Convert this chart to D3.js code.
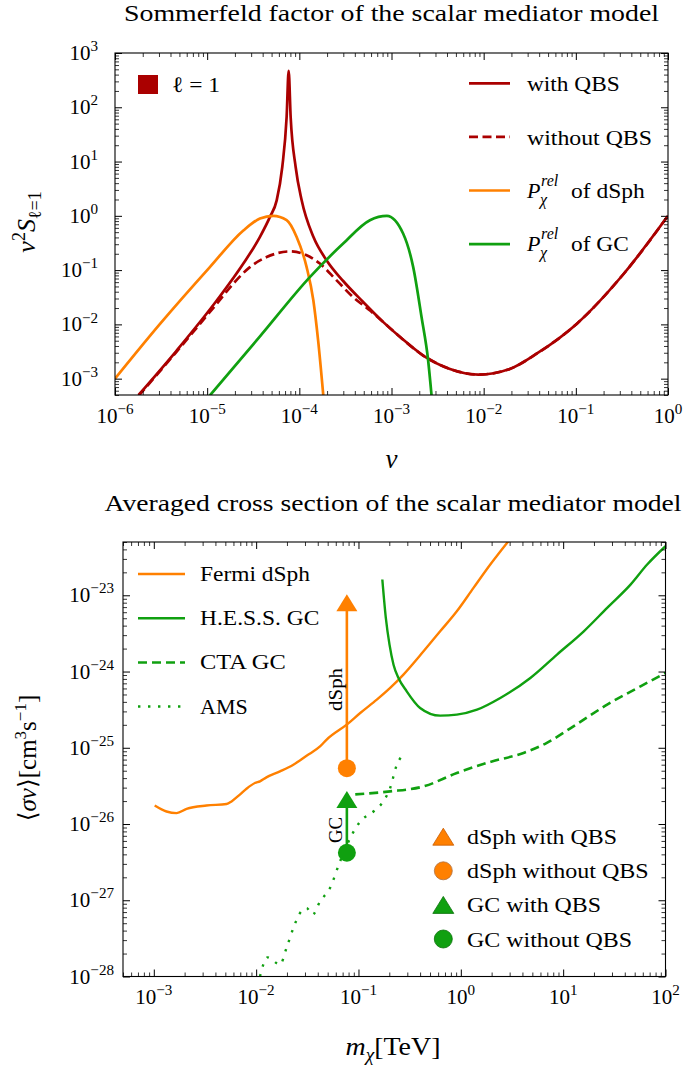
<!DOCTYPE html>
<html>
<head>
<meta charset="utf-8">
<script src="https://cdn.jsdelivr.net/npm/d3@7"></script>
<style>
  body { margin: 0; background: #fff; }
  svg text { font-family: "Liberation Serif", "DejaVu Serif", serif; fill: #000; }
</style>
</head>
<body>
<svg id="fig" width="684" height="1065"></svg>
<script>
"use strict";

const RED = "#aa0000";
const ORANGE = "#ff8000";
const GREEN = "#10a010";

// ---- top panel: v^2 S_l=1 against v ----
const V_WITH_QBS = [1.8e-6, 4.67e-6, 1.27e-5, 2.47e-5, 3.74e-5, 4.8e-5, 5.68e-5, 6.53e-5, 7.28e-5, 7.66e-5,
    8.05e-5, 9.12e-5, 1.06e-4, 1.42e-4, 1.98e-4, 2.99e-4, 4.93e-4, 8.15e-4, 1.24e-3, 2.21e-3,
    4.31e-3, 8.75e-3, 1.92e-2, 3.75e-2, 0.102, 0.326, 1];
const S_WITH_QBS = [5.0e-4, 3.3e-3, 2.75e-2, 0.132, 0.41, 0.955, 1.93, 7.94, 66.1, 468,
    66.1, 7.94, 1.93, 0.41, 0.151, 0.063, 0.0258, 0.011, 5.85e-3, 2.67e-3,
    1.51e-3, 1.19e-3, 1.51e-3, 2.88e-3, 1.02e-2, 0.083, 1];

const V_NO_QBS = [1.8e-6, 4.67e-6, 1.27e-5, 1.92e-5, 2.91e-5, 4.42e-5, 7.91e-5, 1.1e-4, 1.67e-4, 2.54e-4,
    3.85e-4, 5.9e-4, 8.15e-4, 1.24e-3, 2.21e-3, 4.31e-3, 8.75e-3, 1.92e-2, 3.75e-2, 0.102, 0.326, 1];
const S_NO_QBS = [4.8e-4, 3.16e-3, 0.024, 0.0562, 0.1135, 0.174, 0.221, 0.2, 0.132, 0.0646,
    0.0316, 0.0178, 0.011, 5.85e-3, 2.67e-3, 1.51e-3, 1.19e-3, 1.51e-3, 2.88e-3, 1.02e-2, 0.083, 1];

const V_DSPH = [1e-6, 3.08e-6, 1.07e-5, 2.47e-5, 3.74e-5, 5.21e-5, 7.28e-5, 9.35e-5, 1.2e-4, 1.42e-4, 1.6e-4, 1.82e-4];
const P_DSPH = [1e-3, 0.0102, 0.1135, 0.537, 0.891, 1.0, 0.832, 0.407, 0.1135, 0.0275, 5.0e-3, 4.9e-4];

const V_GC = [1.07e-5, 3.74e-5, 1.3e-4, 2.99e-4, 5.83e-4, 8.9e-4, 1.34e-3, 1.72e-3, 2.12e-3, 2.5e-3, 2.72e-3];
const P_GC = [4.9e-4, 6.0e-3, 0.0741, 0.309, 0.832, 1.0, 0.468, 0.1135, 0.0135, 2.14e-3, 4.9e-4];

// ---- bottom panel: <sigma v> against m_chi ----
const M_FERMI = [1.02e-3, 1.33e-3, 1.67e-3, 2.09e-3, 3.27e-3, 5.14e-3, 5.75e-3, 6.93e-3, 8.05e-3, 9.73e-3,
    1.09e-2, 1.26e-2, 1.71e-2, 2.31e-2, 3.11e-2, 4.21e-2, 4.89e-2, 7.67e-2, 0.104, 0.151,
    0.204, 0.275, 0.432, 0.628, 0.914, 1.33, 1.94, 2.92];
const SV_FERMI = [1.75e-26, 1.46e-26, 1.39e-26, 1.58e-26, 1.75e-26, 1.83e-26, 1.98e-26, 2.43e-26, 2.9e-26, 3.45e-26,
    3.63e-26, 4.09e-26, 4.9e-26, 6.0e-26, 7.87e-26, 1.04e-25, 1.28e-25, 2.01e-25, 2.86e-25, 4.28e-25,
    6.1e-25, 9.12e-25, 1.84e-24, 3.37e-24, 6.17e-24, 1.25e-23, 2.53e-23, 5.13e-23];

const M_HESS = [0.171, 0.185, 0.201, 0.22, 0.246, 0.296, 0.40, 0.628, 0.914, 1.44, 2.43, 4.78, 8.71, 15.9, 26.9, 45.5, 66.2, 100];
const SV_HESS = [1.61e-23, 5.05e-24, 2.25e-24, 1.23e-24, 8.24e-25, 5.5e-25, 3.33e-25, 2.64e-25, 2.72e-25, 3.16e-25,
    4.5e-25, 8.24e-25, 1.67e-24, 3.37e-24, 6.84e-24, 1.38e-23, 2.53e-23, 4.4e-23];

const M_CTA = [0.093, 0.204, 0.432, 0.914, 1.94, 4.10, 6.93, 12.6, 26.9, 57.0, 100];
const SV_CTA = [2.45e-26, 2.68e-26, 3.11e-26, 4.67e-26, 6.52e-26, 8.55e-26, 1.16e-25, 1.91e-25, 3.68e-25, 6.4e-25, 9.6e-25];

const M_AMS = [1.09e-2, 1.29e-2, 1.71e-2, 1.98e-2, 2.31e-2, 2.68e-2, 3.11e-2, 3.56e-2, 4.21e-2, 5.27e-2,
    6.61e-2, 8.26e-2, 0.104, 0.140, 0.175, 0.204, 0.237, 0.275];
const SV_AMS = [1.0e-28, 1.78e-28, 1.43e-28, 2.36e-28, 4.32e-28, 6.79e-28, 7.89e-28, 6.46e-28, 9.64e-28, 1.45e-27,
    3.24e-27, 6.46e-27, 1.08e-26, 1.46e-26, 1.98e-26, 2.97e-26, 6.0e-26, 8.13e-26];

const MARKER_MASS = 0.077;
const MARKER_NAMES = ["dSph", "GC"];
const MARKER_COLORS = [ORANGE, GREEN];
const MARKER_WITH = [8.0e-24, 2.1e-26];
const MARKER_WITHOUT = [5.4e-26, 4.2e-27];

const svg = d3.select("#fig");

const zip = (xs, ys) => xs.map((v, i) => [v, ys[i]]);
const isMajor = v => Math.abs(Math.log10(v) - Math.round(Math.log10(v))) < 1e-6;

// stretch a text to the width it has in the reference (Computer Modern is wider than Times)
function fit(t, w) {
    return t.attr("textLength", w).attr("lengthAdjust", "spacingAndGlyphs");
}

function expLabel(g, x, y, e, anchor, size) {
    const t = g.append("text")
        .attr("x", x)
        .attr("y", y)
        .attr("text-anchor", anchor)
        .attr("font-size", size);
    t.append("tspan").text("10");
    t.append("tspan")
        .attr("dy", -0.42 * size)
        .attr("font-size", size * 0.72)
        .text(e < 0 ? "\u2212" + (-e) : String(e));
}

function drawAxes(g, x, y, lab) {
    const [x0, x1] = x.range();
    const [y1, y0] = y.range();
    const xt = x.ticks(), yt = y.ticks();
    const sides = [
        [d3.axisBottom(x), `translate(0,${y1})`, xt],
        [d3.axisTop(x), `translate(0,${y0})`, xt],
        [d3.axisLeft(y), `translate(${x0},0)`, yt],
        [d3.axisRight(y), `translate(${x1},0)`, yt]
    ];
    sides.forEach(([axis, tr, ticks]) => {
        const maj = ticks.filter(isMajor), mn = ticks.filter(v => !isMajor(v));
        [[maj, 7, 1], [mn, 4, 0.8]].forEach(([vals, len, w]) => {
            const a = g.append("g").attr("transform", tr)
                .call(axis.tickValues(vals).tickSize(-len).tickFormat(""));
            a.select(".domain").remove();
            a.selectAll("line").attr("stroke-width", w);
        });
    });
    g.append("rect")
        .attr("x", x0).attr("y", y0)
        .attr("width", x1 - x0).attr("height", y1 - y0)
        .attr("fill", "none").attr("stroke", "#000").attr("stroke-width", 1.1);

    xt.filter(isMajor).forEach(v => expLabel(g, x(v), lab.xBase, Math.round(Math.log10(v)), "middle", 21));
    yt.filter(isMajor).forEach(v => expLabel(g, lab.yRight, y(v) + 7, Math.round(Math.log10(v)), "end", 21));
}

function curve(g, x, y, pts, color, width, dash) {
    const line = d3.line()
        .x(d => x(d[0]))
        .y(d => y(d[1]))
        .curve(d3.curveMonotoneX);
    g.append("path")
        .attr("d", line(pts))
        .attr("fill", "none")
        .attr("stroke", color)
        .attr("stroke-width", width)
        .attr("stroke-dasharray", dash || null);
}

function clipped(id, x, y) {
    const [x0, x1] = x.range();
    const [y1, y0] = y.range();
    svg.append("clipPath").attr("id", id)
        .append("rect").attr("x", x0).attr("y", y0).attr("width", x1 - x0).attr("height", y1 - y0);
    return svg.append("g").attr("clip-path", `url(#${id})`);
}

// ================= top panel =================
const xTop = d3.scaleLog().domain([1e-6, 1]).range([115, 668]);
const yTop = d3.scaleLog().domain([5e-4, 1e3]).range([395, 53]);

fit(svg.append("text")
    .attr("x", 391.5).attr("y", 21)
    .attr("text-anchor", "middle").attr("font-size", 22.5)
    .text("Sommerfeld factor of the scalar mediator model"), 535);

const topPlot = clipped("clip-top", xTop, yTop);
curve(topPlot, xTop, yTop, zip(V_WITH_QBS, S_WITH_QBS), RED, 2.7);
curve(topPlot, xTop, yTop, zip(V_NO_QBS, S_NO_QBS), RED, 2.7, "9,4.5");
curve(topPlot, xTop, yTop, zip(V_DSPH, P_DSPH), ORANGE, 2.7);
curve(topPlot, xTop, yTop, zip(V_GC, P_GC), GREEN, 2.7);

const topAxes = svg.append("g");
drawAxes(topAxes, xTop, yTop, {xBase: 423, yRight: 98});

// x / y labels
svg.append("text")
    .attr("x", 391.5).attr("y", 468)
    .attr("text-anchor", "middle").attr("font-size", 27)
    .attr("font-style", "italic")
    .text("v");

const yLabTop = svg.append("text")
    .attr("transform", "translate(35,222) rotate(-90)")
    .attr("text-anchor", "middle").attr("font-size", 26);
yLabTop.append("tspan").attr("font-style", "italic").text("v");
yLabTop.append("tspan").attr("font-size", 18).attr("dy", -10).text("2");
yLabTop.append("tspan").attr("font-style", "italic").attr("dy", 10).text("S");
yLabTop.append("tspan").attr("font-size", 18).attr("dy", 6).text("\u2113=1");

// legends
const legTop = svg.append("g");
legTop.append("rect")
    .attr("x", 138).attr("y", 75).attr("width", 20).attr("height", 19)
    .attr("fill", RED);
fit(legTop.append("text")
    .attr("x", 172).attr("y", 92).attr("font-size", 22)
    .text("\u2113 = 1"), 48);

const TOP_LEGEND = [
    {color: RED, dash: null, label: "with QBS", w: 92.7},
    {color: RED, dash: "9,4.5", label: "without QBS", w: 125},
    {color: ORANGE, dash: null, label: "of dSph", w: 73.7, prel: true},
    {color: GREEN, dash: null, label: "of GC", w: 57.7, prel: true}
];
TOP_LEGEND.forEach((d, i) => {
    const ly = 83.3 + i * 53.6;
    legTop.append("line")
        .attr("x1", 469).attr("x2", 510).attr("y1", ly).attr("y2", ly)
        .attr("stroke", d.color).attr("stroke-width", 2.7)
        .attr("stroke-dasharray", d.dash);
    if (d.prel) {
        legTop.append("text").attr("x", 527).attr("y", ly + 7).attr("font-size", 22)
            .attr("font-style", "italic").text("P");
        legTop.append("text").attr("x", 541).attr("y", ly - 5).attr("font-size", 16)
            .attr("font-style", "italic").text("rel");
        legTop.append("text").attr("x", 540).attr("y", ly + 14).attr("font-size", 16)
            .attr("font-style", "italic").text("\u03c7");
        fit(legTop.append("text").attr("x", 571).attr("y", ly + 7).attr("font-size", 22).text(d.label), d.w);
    } else {
        fit(legTop.append("text").attr("x", 527).attr("y", ly + 8).attr("font-size", 22).text(d.label), d.w);
    }
});

// ================= bottom panel =================
const xBot = d3.scaleLog().domain([5e-4, 100]).range([123, 665.5]);
const yBot = d3.scaleLog().domain([1e-28, 5e-23]).range([976.5, 542]);

fit(svg.append("text")
    .attr("x", 393).attr("y", 511)
    .attr("text-anchor", "middle").attr("font-size", 22.5)
    .text("Averaged cross section of the scalar mediator model"), 577);

const botPlot = clipped("clip-bot", xBot, yBot);
curve(botPlot, xBot, yBot, zip(M_FERMI, SV_FERMI), ORANGE, 2.4);
curve(botPlot, xBot, yBot, zip(M_HESS, SV_HESS), GREEN, 2.4);
curve(botPlot, xBot, yBot, zip(M_CTA, SV_CTA), GREEN, 2.6, "9,5");
curve(botPlot, xBot, yBot, zip(M_AMS, SV_AMS), GREEN, 2.4, "2.4,7.6");

const triPath = "M0,-8.5L10.5,8.5L-10.5,8.5Z";

MARKER_NAMES.forEach((name, i) => {
    const mx = xBot(MARKER_MASS);
    const yw = yBot(MARKER_WITH[i]), yo = yBot(MARKER_WITHOUT[i]);
    const c = MARKER_COLORS[i];
    botPlot.append("line")
        .attr("x1", mx).attr("x2", mx).attr("y1", yo).attr("y2", yw)
        .attr("stroke", c).attr("stroke-width", 2.6);
    botPlot.append("path")
        .attr("transform", `translate(${mx},${yw})`)
        .attr("d", triPath).attr("fill", c);
    botPlot.append("circle")
        .attr("cx", mx).attr("cy", yo).attr("r", 9).attr("fill", c);
    const ym = yBot(Math.sqrt(MARKER_WITH[i] * MARKER_WITHOUT[i]));
    fit(svg.append("text")
        .attr("transform", `translate(${mx - 5},${ym + 4}) rotate(-90)`)
        .attr("text-anchor", "middle").attr("font-size", 19)
        .text(name), i === 0 ? 43 : 26);
});

const botAxes = svg.append("g");
drawAxes(botAxes, xBot, yBot, {xBase: 1004, yRight: 114});

svg.append("text")
    .attr("transform", "translate(36,758) rotate(-90)")
    .attr("text-anchor", "middle").attr("font-size", 25)
    .call(t => {
        t.append("tspan").text("\u27e8");
        t.append("tspan").attr("font-style", "italic").text("\u03c3v");
        t.append("tspan").text("\u27e9[cm");
        t.append("tspan").attr("font-size", 17).attr("dy", -10).text("3");
        t.append("tspan").attr("dy", 10).text("s");
        t.append("tspan").attr("font-size", 17).attr("dy", -10).text("\u22121");
        t.append("tspan").attr("dy", 10).text("]");
    });

fit(svg.append("text")
    .attr("x", 393).attr("y", 1055)
    .attr("text-anchor", "middle").attr("font-size", 26)
    .call(t => {
        t.append("tspan").attr("font-style", "italic").text("m");
        t.append("tspan").attr("font-style", "italic").attr("font-size", 18).attr("dy", 6).text("\u03c7");
        t.append("tspan").attr("dy", -6).text("[TeV]");
    }), 95);

// legends
const legBot = svg.append("g");
const BOT_LINE_LEGEND = [
    {color: ORANGE, dash: null, label: "Fermi dSph", w: 110},
    {color: GREEN, dash: null, label: "H.E.S.S. GC", w: 119.3},
    {color: GREEN, dash: "9,5", label: "CTA GC", w: 85.7},
    {color: GREEN, dash: "2.4,7.6", label: "AMS", w: 47.7}
];
BOT_LINE_LEGEND.forEach((d, i) => {
    const ly = 574 + i * 44.2;
    legBot.append("line")
        .attr("x1", 138).attr("x2", 185).attr("y1", ly).attr("y2", ly)
        .attr("stroke", d.color).attr("stroke-width", 2.5)
        .attr("stroke-dasharray", d.dash);
    fit(legBot.append("text").attr("x", 200).attr("y", ly + 7).attr("font-size", 21).text(d.label), d.w);
});

const BOT_MARKER_LEGEND = [
    {color: ORANGE, edge: "#c85a00", tri: true, label: "dSph with QBS", w: 150},
    {color: ORANGE, edge: "#b07040", tri: false, label: "dSph without QBS", w: 181.7},
    {color: GREEN, edge: "#087008", tri: true, label: "GC with QBS", w: 134},
    {color: GREEN, edge: "#087008", tri: false, label: "GC without QBS", w: 165}
];
BOT_MARKER_LEGEND.forEach((d, i) => {
    const ly = 836.7 + i * 34.1;
    if (d.tri) {
        legBot.append("path").attr("transform", `translate(443.3,${ly})`)
            .attr("d", triPath).attr("fill", d.color).attr("stroke", d.edge).attr("stroke-width", 0.8);
    } else {
        legBot.append("circle").attr("cx", 443.3).attr("cy", ly).attr("r", 9)
            .attr("fill", d.color).attr("stroke", d.edge).attr("stroke-width", 0.8);
    }
    fit(legBot.append("text").attr("x", 467).attr("y", ly + 7.5).attr("font-size", 21).text(d.label), d.w);
});
</script>
</body>
</html>
